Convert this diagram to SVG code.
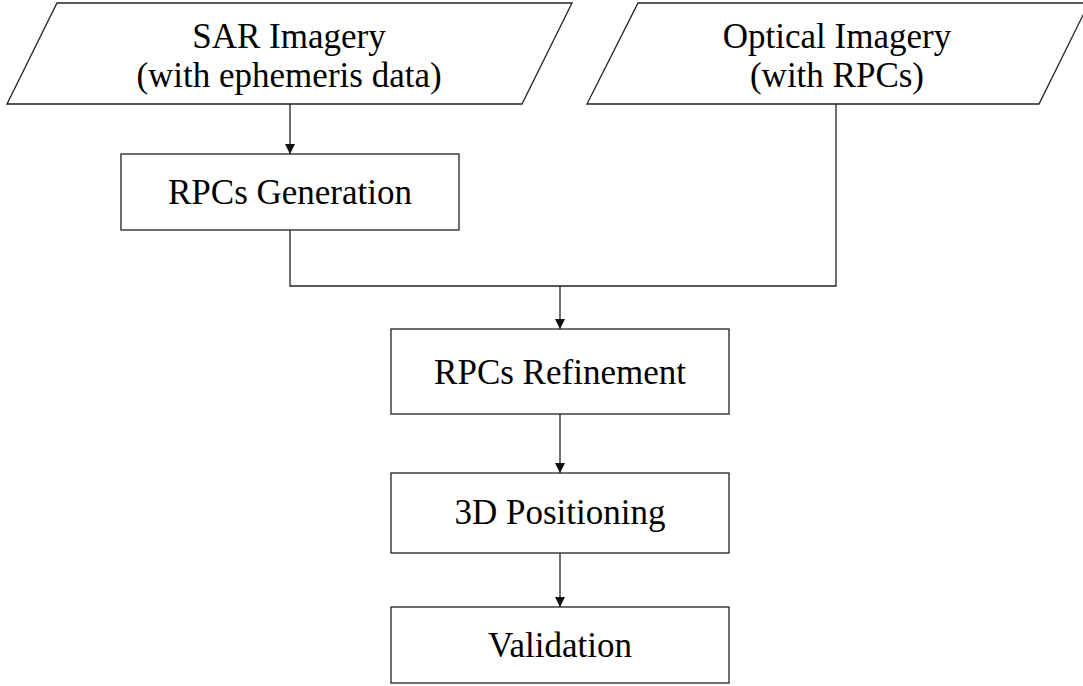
<svg xmlns="http://www.w3.org/2000/svg" width="1083" height="686" viewBox="0 0 1083 686">
<defs>
<marker id="ah" viewBox="0 0 10 10" refX="10" refY="5" markerWidth="10" markerHeight="10" markerUnits="userSpaceOnUse" orient="auto">
<path d="M0,0 L10,5 L0,10 Z" fill="#111"/>
</marker>
<style>
.shape{fill:#fff;stroke:#222;stroke-width:1.3}
.lbl{font-family:"Liberation Serif","Times New Roman",serif;font-size:35px;fill:#000;text-anchor:middle}
.conn{fill:none;stroke:#222;stroke-width:1.3}
</style>
</defs>
<rect width="1083" height="686" fill="#fff"/>
<g id="sar">
<polygon class="shape" points="57,3 572,3 522,104 7,104"/>
<text class="lbl" x="289" y="48">SAR Imagery</text>
<text class="lbl" x="289" y="87">(with ephemeris data)</text>
</g>
<g id="optical">
<polygon class="shape" points="638,3 1089,3 1039,104 587,104"/>
<text class="lbl" x="837" y="48">Optical Imagery</text>
<text class="lbl" x="837" y="87">(with RPCs)</text>
</g>
<g id="rpcgen">
<rect class="shape" x="121" y="154" width="338" height="76"/>
<text class="lbl" x="290" y="204">RPCs Generation</text>
</g>
<g id="refine">
<rect class="shape" x="391" y="329" width="338" height="85"/>
<text class="lbl" x="560" y="384">RPCs Refinement</text>
</g>
<g id="pos3d">
<rect class="shape" x="391" y="473" width="338" height="80"/>
<text class="lbl" x="560" y="524">3D Positioning</text>
</g>
<g id="valid">
<rect class="shape" x="391" y="607" width="338" height="76"/>
<text class="lbl" x="560" y="657">Validation</text>
</g>
<g id="connectors">
<path class="conn" d="M290,104 V154" marker-end="url(#ah)"/>
<path class="conn" d="M290,230 V286 H836 V104"/>
<path class="conn" d="M560,286 V329" marker-end="url(#ah)"/>
<path class="conn" d="M560,414 V473" marker-end="url(#ah)"/>
<path class="conn" d="M560,553 V607" marker-end="url(#ah)"/>
</g>
</svg>
